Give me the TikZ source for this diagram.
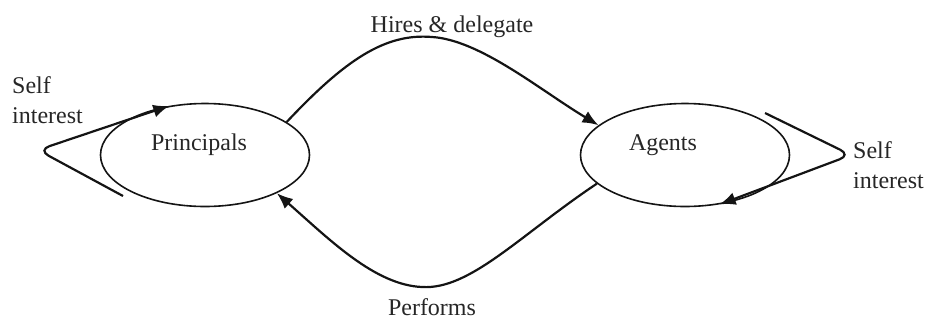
\documentclass[tikz,border=0pt]{standalone}
\usepackage{fontspec}
\setmainfont{Liberation Serif}
\usetikzlibrary{arrows.meta,shapes.geometric}
\definecolor{ink}{gray}{0.08}
\definecolor{txtc}{gray}{0.15}
\begin{document}
\begin{tikzpicture}[x=1pt,y=-1pt,
  ell/.style={draw=ink,ellipse,line width=1.6pt,minimum width=209pt,minimum height=103pt,inner sep=0pt},
  lbl/.style={text=txtc,font=\fontsize{24}{30}\selectfont,inner sep=0pt},
  conn/.style={draw=ink,line width=2.2pt,-{Latex[length=16pt,width=13pt]}},
  loop/.style={conn,rounded corners=12pt}]
\useasboundingbox (0,0) rectangle (933,322);
\node[ell] (P) at (205,155) {};
\node[ell] (A) at (685,155) {};
\node[lbl] (Pt) at (199,145) {Principals};
\node[lbl] (At) at (663,145) {Agents};
\node[lbl,anchor=base] (H) at (452,32) {Hires \& delegate};
\node[lbl,anchor=base] (F) at (432,315) {Performs};
\node[lbl,align=left,anchor=north west] (SL) at (12,76) {Self\\interest};
\node[lbl,align=left,anchor=north west] (SR) at (853,141) {Self\\interest};
% hires & delegate
\draw[conn] (P.22) .. controls (345,60) and (385,33) .. (432,37)
  .. controls (480,40) and (540,90) .. (A.161);
% performs
\draw[conn] (A.198) .. controls (520,235) and (470,290) .. (422,287)
  .. controls (375,285) and (330,240) .. (P.-28);
% self loops
\coordinate (l0) at (123,196);
\coordinate (l1) at (38,150);
\coordinate (r0) at (765,113);
\coordinate (r1) at (851,155);
\draw[loop] (l0) -- (l1) -- (P.126);
\draw[loop] (r0) -- (r1) -- (A.-55);
\end{tikzpicture}
\end{document}
